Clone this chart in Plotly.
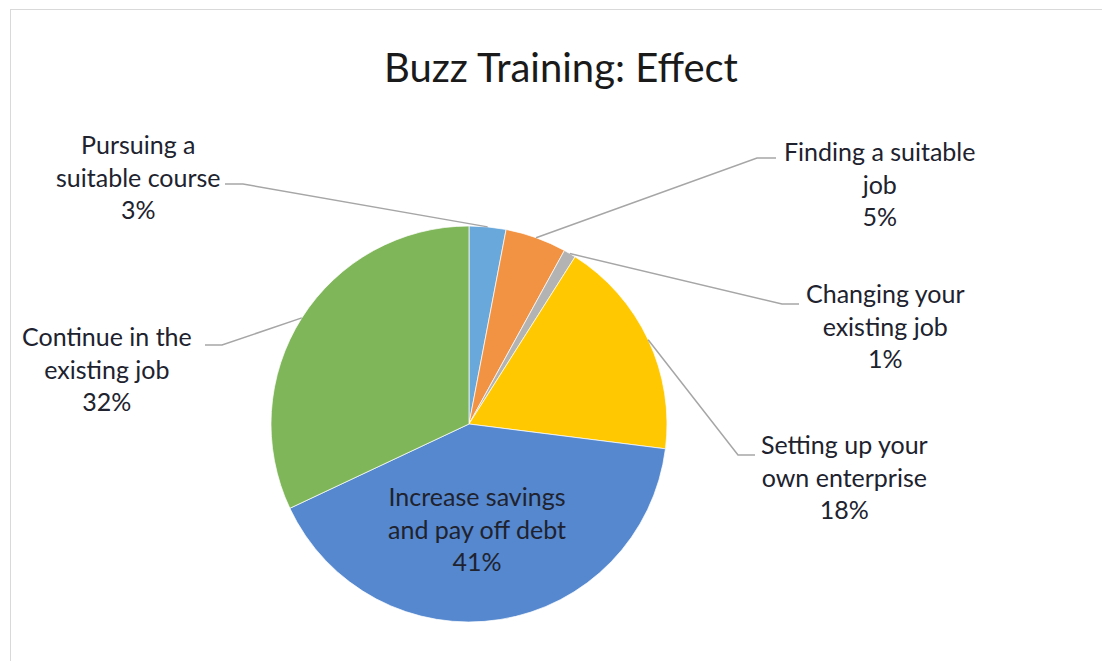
import math
import plotly.graph_objects as go

# Data
categories = ['Pursuing a suitable course', 'Finding a suitable job', 'Changing your existing job',
              'Setting up your own enterprise', 'Increase savings and pay off debt', 'Continue in the existing job']
wrapped = ['Pursuing a<br>suitable course', 'Finding a suitable<br>job', 'Changing your<br>existing job',
           'Setting up your<br>own enterprise', 'Increase savings<br>and pay off debt', 'Continue in the<br>existing job']
values = [3, 5, 1, 18, 41, 32]
colors = ['#69A8DB', '#F29343', '#B3B3B3', '#FFC800', '#5588CE', '#80B65A']

W, H = 1102, 661
cx, cy, r = 469, 424, 198

def px(x):
    return x / W

def py(y):
    return 1 - y / H

fig = go.Figure(go.Pie(
    labels=categories, values=values, sort=False, direction='clockwise', rotation=0,
    marker=dict(colors=colors, line=dict(color='white', width=0.7)),
    textinfo='none', hoverinfo='label+percent', showlegend=False,
    domain=dict(x=[px(cx - r), px(cx + r)], y=[py(cy + r), py(cy - r)]),
))

# label placement: (text center x, text center y, elbow x, elbow y, line end x) ; None = inside label
label_pos = [
    (138, 177, 243, 184, 225),
    (879, 183, 757, 158, 776),
    (885, 326, 782, 304, 799),
    (844, 476, 738, 455, 755),
    (477, 528, None, None, None),
    (107, 368, 222, 345, 205),
]

total = sum(values)
start = 0.0
shapes = []
annotations = []
for name, v, pos in zip(wrapped, values, label_pos):
    mid = start + v / total * 360 / 2
    start += v / total * 360
    tx, ty, ex, ey, lx = pos
    annotations.append(dict(
        x=px(tx), y=py(ty), xref='paper', yref='paper', showarrow=False,
        xanchor='center', yanchor='middle',
        text=f'{name}<br>{v}%', align='center',
        font=dict(family='Lato, Open Sans, sans-serif', size=25, color='#20222e'),
    ))
    if ex is not None:
        a = math.radians(mid)
        sx = cx + r * math.sin(a)
        sy = cy - r * math.cos(a)
        shapes.append(dict(
            type='path', xref='paper', yref='paper',
            path=f'M {px(sx)} {py(sy)} L {px(ex)} {py(ey)} L {px(lx)} {py(ey)}',
            line=dict(color='#A6A6A6', width=1.5),
        ))

# chart frame (left and top edges visible)
shapes.append(dict(type='line', xref='paper', yref='paper', x0=px(10.5), x1=px(10.5), y0=0, y1=py(9),
                   line=dict(color='#D9D9D9', width=1)))
shapes.append(dict(type='line', xref='paper', yref='paper', x0=px(10), x1=1, y0=py(9.5), y1=py(9.5),
                   line=dict(color='#D9D9D9', width=1)))

fig.update_layout(
    width=W, height=H,
    margin=dict(l=0, r=0, t=0, b=0),
    paper_bgcolor='white', plot_bgcolor='white',
    title=dict(text='Buzz Training: Effect', x=px(561), y=py(68), xanchor='center', yanchor='middle',
               font=dict(family='Lato, Open Sans, sans-serif', size=40, color='#1a1a1a')),
    shapes=shapes, annotations=annotations,
)

fig.write_html('out.html', config={'displayModeBar': False},
               post_script="document.body.style.margin='0';")
